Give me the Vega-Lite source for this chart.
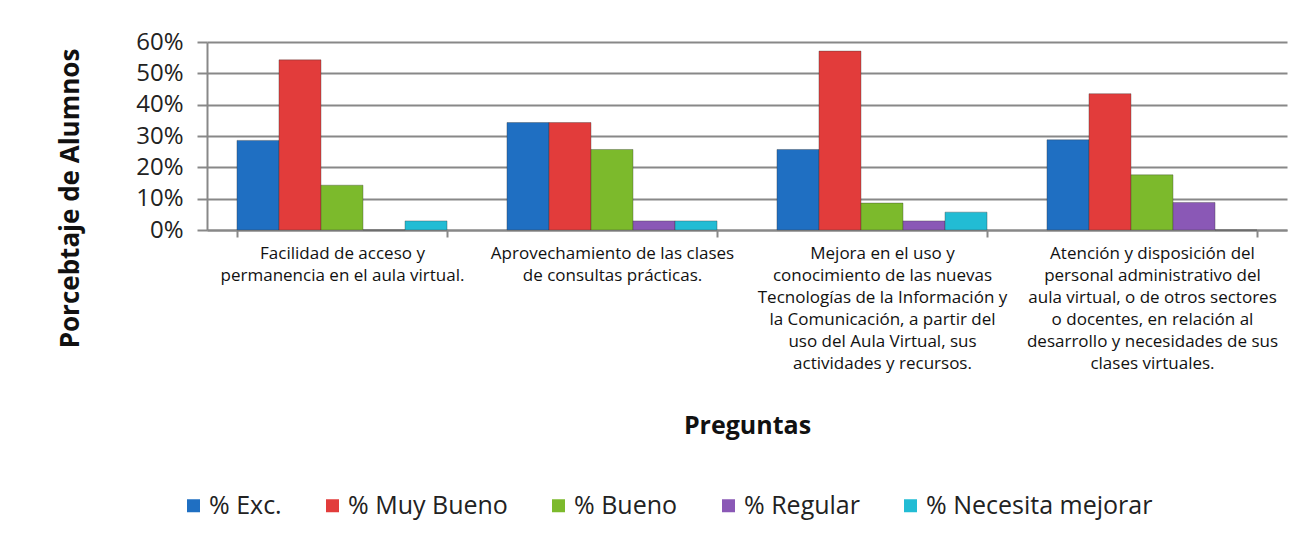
{
  "$schema": "https://vega.github.io/schema/vega-lite/v6.json",
  "width": 1080,
  "height": 188,
  "autosize": {"type": "none"},
  "padding": {"left": 207, "top": 42, "right": 18, "bottom": 312},
  "background": "white",
  "config": {"font": "Open Sans", "view": {"stroke": null}},
  "data": {
    "values": [
      {"pregunta": "Facilidad de acceso y|permanencia en el aula virtual.", "categoria": "% Exc.", "valor": 0.286},
      {"pregunta": "Facilidad de acceso y|permanencia en el aula virtual.", "categoria": "% Muy Bueno", "valor": 0.543},
      {"pregunta": "Facilidad de acceso y|permanencia en el aula virtual.", "categoria": "% Bueno", "valor": 0.143},
      {"pregunta": "Facilidad de acceso y|permanencia en el aula virtual.", "categoria": "% Regular", "valor": 0.0},
      {"pregunta": "Facilidad de acceso y|permanencia en el aula virtual.", "categoria": "% Necesita mejorar", "valor": 0.029},
      {"pregunta": "Aprovechamiento de las clases|de consultas prácticas.", "categoria": "% Exc.", "valor": 0.343},
      {"pregunta": "Aprovechamiento de las clases|de consultas prácticas.", "categoria": "% Muy Bueno", "valor": 0.343},
      {"pregunta": "Aprovechamiento de las clases|de consultas prácticas.", "categoria": "% Bueno", "valor": 0.257},
      {"pregunta": "Aprovechamiento de las clases|de consultas prácticas.", "categoria": "% Regular", "valor": 0.029},
      {"pregunta": "Aprovechamiento de las clases|de consultas prácticas.", "categoria": "% Necesita mejorar", "valor": 0.029},
      {"pregunta": "Mejora en el uso y|conocimiento de las nuevas|Tecnologías de la Información y|la Comunicación, a partir del|uso del Aula Virtual, sus|actividades y recursos.", "categoria": "% Exc.", "valor": 0.257},
      {"pregunta": "Mejora en el uso y|conocimiento de las nuevas|Tecnologías de la Información y|la Comunicación, a partir del|uso del Aula Virtual, sus|actividades y recursos.", "categoria": "% Muy Bueno", "valor": 0.571},
      {"pregunta": "Mejora en el uso y|conocimiento de las nuevas|Tecnologías de la Información y|la Comunicación, a partir del|uso del Aula Virtual, sus|actividades y recursos.", "categoria": "% Bueno", "valor": 0.086},
      {"pregunta": "Mejora en el uso y|conocimiento de las nuevas|Tecnologías de la Información y|la Comunicación, a partir del|uso del Aula Virtual, sus|actividades y recursos.", "categoria": "% Regular", "valor": 0.029},
      {"pregunta": "Mejora en el uso y|conocimiento de las nuevas|Tecnologías de la Información y|la Comunicación, a partir del|uso del Aula Virtual, sus|actividades y recursos.", "categoria": "% Necesita mejorar", "valor": 0.057},
      {"pregunta": "Atención y disposición del|personal administrativo del|aula virtual, o de otros sectores|o docentes, en relación al|desarrollo y necesidades de sus|clases virtuales.", "categoria": "% Exc.", "valor": 0.288},
      {"pregunta": "Atención y disposición del|personal administrativo del|aula virtual, o de otros sectores|o docentes, en relación al|desarrollo y necesidades de sus|clases virtuales.", "categoria": "% Muy Bueno", "valor": 0.435},
      {"pregunta": "Atención y disposición del|personal administrativo del|aula virtual, o de otros sectores|o docentes, en relación al|desarrollo y necesidades de sus|clases virtuales.", "categoria": "% Bueno", "valor": 0.176},
      {"pregunta": "Atención y disposición del|personal administrativo del|aula virtual, o de otros sectores|o docentes, en relación al|desarrollo y necesidades de sus|clases virtuales.", "categoria": "% Regular", "valor": 0.088},
      {"pregunta": "Atención y disposición del|personal administrativo del|aula virtual, o de otros sectores|o docentes, en relación al|desarrollo y necesidades de sus|clases virtuales.", "categoria": "% Necesita mejorar", "valor": 0.0}
    ]
  },
  "mark": {"type": "bar", "strokeWidth": 1, "strokeOpacity": 0.35, "stroke": "#333"},
  "encoding": {
    "x": {
      "field": "pregunta",
      "type": "nominal",
      "sort": null,
      "scale": {"paddingInner": 0.222, "paddingOuter": 0.111},
      "axis": {
        "title": "Preguntas",
        "titleFontSize": 25,
        "titleFontWeight": "bold",
        "titleColor": "#111",
        "titlePadding": 42,
        "labelExpr": "split(datum.label, '|')",
        "labelAngle": 0,
        "labelFontSize": 17,
        "labelLineHeight": 22,
        "labelColor": "#111",
        "labelPadding": 8,
        "labelLimit": 500,
        "labelOverlap": false,
        "labelBound": false,
        "tickBand": "extent",
        "tickSize": 7,
        "tickColor": "#888",
        "tickWidth": 2,
        "domainColor": "#888",
        "domainWidth": 2,
        "grid": false
      }
    },
    "xOffset": {
      "field": "categoria",
      "type": "nominal",
      "sort": ["% Exc.", "% Muy Bueno", "% Bueno", "% Regular", "% Necesita mejorar"],
      "scale": {"paddingInner": 0, "paddingOuter": 0}
    },
    "y": {
      "field": "valor",
      "type": "quantitative",
      "scale": {"domain": [0, 0.6], "nice": false},
      "axis": {
        "title": "Porcebtaje de Alumnos",
        "titleFontSize": 26,
        "titleFontWeight": "bold",
        "titleColor": "#111",
        "titlePadding": 52,
        "titleY": 156,
        "values": [0, 0.1, 0.2, 0.3, 0.4, 0.5, 0.6],
        "format": ".0%",
        "labelFontSize": 24,
        "labelColor": "#222",
        "labelPadding": 14,
        "tickSize": 10,
        "tickColor": "#888",
        "tickWidth": 2,
        "domainColor": "#888",
        "domainWidth": 2,
        "gridColor": "#888",
        "gridWidth": 2
      }
    },
    "color": {
      "field": "categoria",
      "type": "nominal",
      "sort": ["% Exc.", "% Muy Bueno", "% Bueno", "% Regular", "% Necesita mejorar"],
      "scale": {
        "domain": ["% Exc.", "% Muy Bueno", "% Bueno", "% Regular", "% Necesita mejorar"],
        "range": ["#1f6fc2", "#e23c3b", "#7cba2c", "#8a58b6", "#22bcd4"]
      },
      "legend": {
        "title": null,
        "orient": "none",
        "legendX": -26,
        "legendY": 451,
        "direction": "horizontal",
        "symbolType": "square",
        "symbolSize": 169,
        "symbolStrokeWidth": 0,
        "labelFontSize": 25,
        "labelLimit": 400,
        "labelColor": "#222",
        "labelOffset": 3,
        "columnPadding": 38
      }
    }
  }
}
